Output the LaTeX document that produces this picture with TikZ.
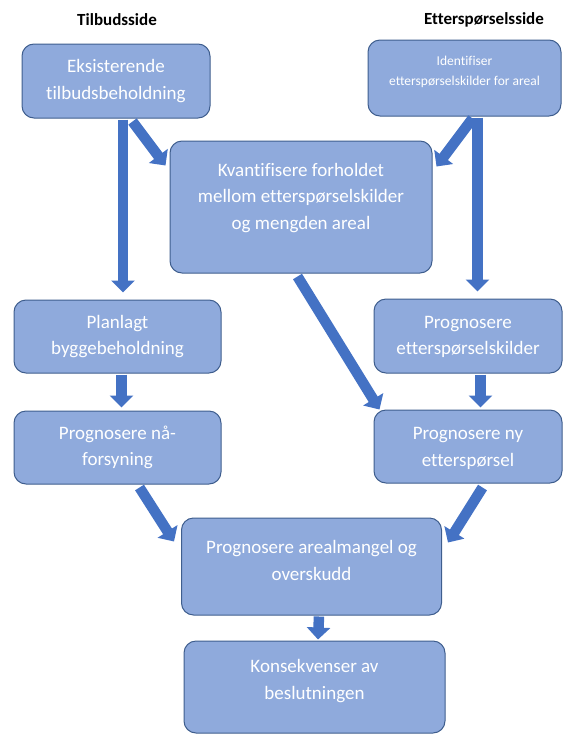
\documentclass[tikz,border=0pt]{standalone}
\usepackage{fontspec}
\setmainfont[Ligatures={NoCommon,NoContextual},Contextuals=NoAlternate]{Carlito}
\usetikzlibrary{arrows.meta,calc}

\definecolor{boxfill}{HTML}{8FAADC}
\definecolor{boxline}{HTML}{3F5E8E}
\definecolor{arrowblue}{HTML}{4472C4}

\tikzset{
  box/.style={draw=boxline, line width=1pt, fill=boxfill, rounded corners=12pt,
              inner sep=0pt},
  boxtext/.style={text=white, align=center, inner sep=0pt,
                  font=\fontsize{19}{26.5}\selectfont},
  smalltext/.style={text=white, align=center, inner sep=0pt,
                    font=\fontsize{13.5}{20}\selectfont},
  title/.style={inner sep=0pt, font=\fontsize{17}{20}\selectfont\bfseries},
  flow/.style={draw=arrowblue, line width=10.5pt,
               -{Triangle[width=23pt,length=12pt,fill=arrowblue]}},
}

\begin{document}
\begin{tikzpicture}[x=1pt,y=-1pt]
  \useasboundingbox (0,0) rectangle (572,734);

  % column headings
  \node[title] (supplyhead) at (117,20) {Tilbudsside};
  \node[title] (demandhead) at (484,20) {Etterspørselsside};

  % boxes
  \node[box, minimum width=188pt, minimum height=74pt]  (stock)    at (116,81)    {};
  \node[box, minimum width=193pt, minimum height=76pt]  (sources)  at (464.5,78)  {};
  \node[box, minimum width=262pt, minimum height=132pt] (ratio)    at (301,207)   {};
  \node[box, minimum width=207pt, minimum height=73pt]  (planned)  at (117.5,336.5) {};
  \node[box, minimum width=188pt, minimum height=74pt]  (fcsrc)    at (468,336)   {};
  \node[box, minimum width=207pt, minimum height=73pt]  (fcsupply) at (117.5,447.5) {};
  \node[box, minimum width=188pt, minimum height=73pt]  (fcdemand) at (468,446.5) {};
  \node[box, minimum width=260pt, minimum height=97pt]  (gap)      at (311.5,566.5) {};
  \node[box, minimum width=261pt, minimum height=92pt]  (conseq)   at (314.5,687) {};

  % box labels
  \node[boxtext]   (stockt)    at ($(stock.center)+(0,0)$)    {Eksisterende\\tilbudsbeholdning};
  \node[smalltext] (sourcest)  at ($(sources.center)+(0,-6)$) {Identifiser\\etterspørselskilder for areal};
  \node[boxtext]   (ratiot)    at ($(ratio.center)+(0,-9)$)   {Kvantifisere forholdet\\mellom etterspørselskilder\\og mengden areal};
  \node[boxtext]   (plannedt)  at ($(planned.center)+(0,0)$)  {Planlagt\\byggebeholdning};
  \node[boxtext]   (fcsrct)    at ($(fcsrc.center)+(0,1)$)    {Prognosere\\etterspørselskilder};
  \node[boxtext]   (fcsupplyt) at ($(fcsupply.center)+(0,0)$) {Prognosere nå-\\forsyning};
  \node[boxtext]   (fcdemandt) at ($(fcdemand.center)+(0,2)$) {Prognosere ny\\etterspørsel};
  \node[boxtext]   (gapt)      at ($(gap.center)+(0,-6)$)     {Prognosere arealmangel og\\overskudd};
  \node[boxtext]   (conseqt)   at ($(conseq.center)+(0,-6)$)  {Konsekvenser av\\beslutningen};

  % connectors
  \draw[flow] ($(stock.south west)+(101.5,1)$) -- ($(planned.north west)+(109.5,-7)$);
  \draw[flow] ($(stock.south west)+(111,3)$)   -- ($(ratio.north west)+(-4,25)$);
  \draw[flow] ($(sources.south west)+(105,2)$) -- ($(ratio.north east)+(4,26)$);
  \draw[flow] ($(sources.south west)+(110,1)$) -- ($(fcsrc.north west)+(104,-7)$);
  \draw[flow] ($(ratio.south west)+(128,3)$)   -- ($(fcdemand.north west)+(6,0)$);
  \draw[flow] ($(planned.south west)+(108,1)$) -- ($(fcsupply.north west)+(108,-3)$);
  \draw[flow] ($(fcsrc.south west)+(107,1)$)   -- ($(fcdemand.north west)+(107,-2)$);
  \draw[flow] ($(fcsupply.south west)+(126,3)$) -- ($(gap.north west)+(-7,24)$);
  \draw[flow] ($(fcdemand.south west)+(109,4)$) -- ($(gap.north east)+(6,25)$);
  \draw[flow] ($(gap.south west)+(138,1)$)     -- ($(conseq.north west)+(134.5,-1)$);
\end{tikzpicture}
\end{document}
